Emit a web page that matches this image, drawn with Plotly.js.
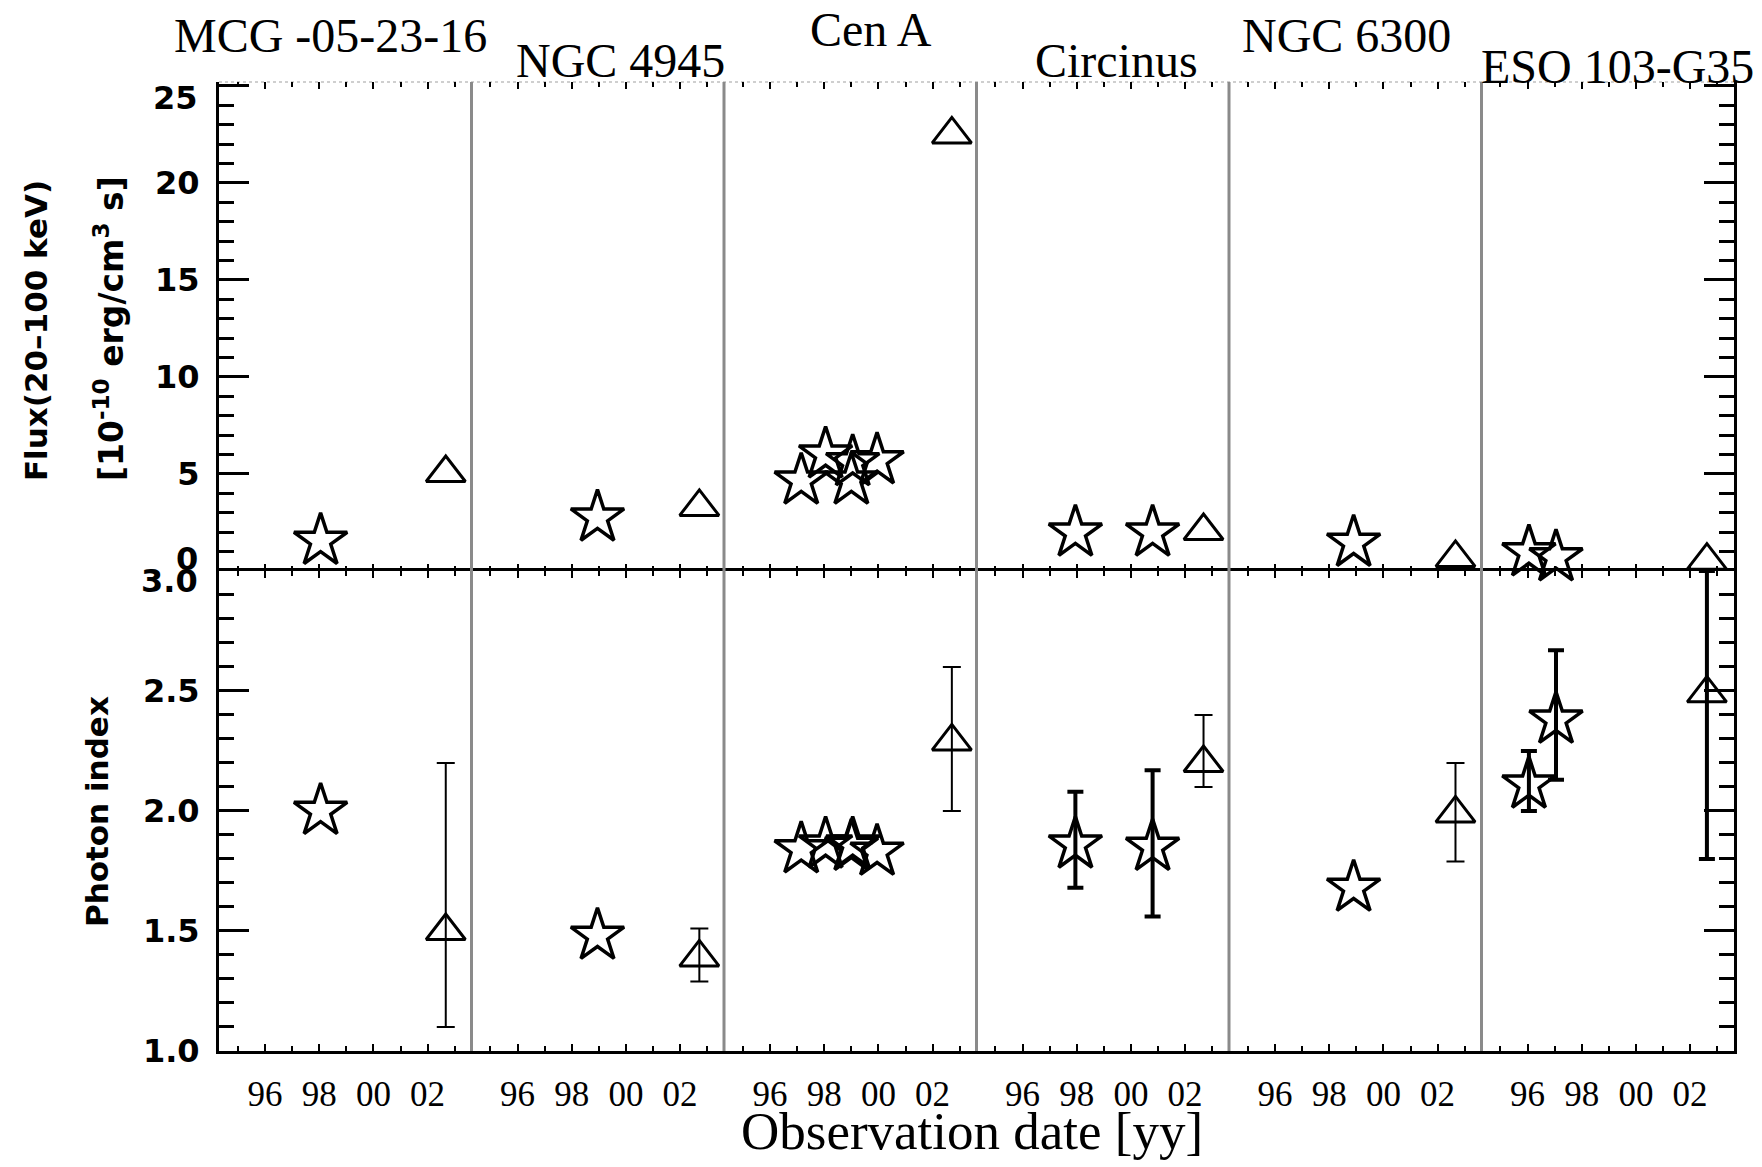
<!DOCTYPE html>
<html>
<head>
<meta charset="utf-8">
<script src="https://cdn.plot.ly/plotly-3.0.1.min.js"></script>
<style>
html,body{margin:0;padding:0;background:#fff;}
#chart{width:1762px;height:1167px;}
</style>
</head>
<body>
<div id="chart"></div>
<script>
// ---------------- DATA ----------------
const sources = ['MCG -05-23-16', 'NGC 4945', 'Cen A', 'Circinus', 'NGC 6300', 'ESO 103-G35'];

// earlier observations (star symbols)
const starYears = [
  [1998.05],
  [1998.95],
  [1997.15, 1998.05, 1999.0, 1999.05, 1999.95],
  [1997.95, 2000.8],
  [1998.9],
  [1996.05, 1997.05]
];
const starFlux = [
  [1.55],
  [2.75],
  [4.65, 6.0, 4.65, 5.6, 5.7],
  [1.97, 1.97],
  [1.45],
  [0.95, 0.7]
];
const starIndex = [
  [2.0],
  [1.48],
  [1.84, 1.86, 1.85, 1.86, 1.83],
  [1.86, 1.85],
  [1.68],
  [2.11, 2.38]
];
const starErrPlus = [
  [null],
  [null],
  [null, null, null, null, null],
  [0.22, 0.32],
  [null],
  [0.14, 0.29]
];
const starErrMinus = [
  [null],
  [null],
  [null, null, null, null, null],
  [0.18, 0.29],
  [null],
  [0.11, 0.25]
];

// INTEGRAL observations (triangles), one per source
const triYears    = [2002.67, 2002.71, 2002.71, 2002.68, 2002.66, 2002.62];
const triFlux     = [5.05, 3.3, 22.5, 2.06, 0.67, 0.53];
const triIndex    = [1.5, 1.39, 2.29, 2.2, 1.99, 2.49];
const triErrPlus  = [0.7, 0.12, 0.31, 0.2, 0.21, 0.51];
const triErrMinus = [0.4, 0.1, 0.29, 0.1, 0.2, 0.69];

const xTickYears  = [1996, 1998, 2000, 2002];
const xTickLabels = ['96', '98', '00', '02'];
const fluxTicks   = [0, 5, 10, 15, 20, 25];
const fluxLabels  = ['0', '5', '10', '15', '20', '25'];
const indexTicks  = [1.0, 1.5, 2.0, 2.5, 3.0];
const indexLabels = ['1.0', '1.5', '2.0', '2.5', '3.0'];

// ---------------- STYLE ----------------
const X_RANGE = [1994.3, 2003.62];
const FLUX_RANGE = [0, 25.2];
const INDEX_RANGE = [1, 3];
const SPLIT = 0.4954;
const thickTriPanels = [5];
const N = sources.length;

const starMarker = {symbol: 'star-open', size: 40, color: '#000', line: {color: '#000', width: 3.5}};
const triMarker  = {symbol: 'triangle-up-open', size: 34, color: '#000', line: {color: '#000', width: 3}};

const traces = [];
for (let k = 0; k < N; k++) {
  const bx = k === 0 ? 'x' : 'x' + (k + 1);
  const tx = 'x' + (k + 7);
  const hasErr = starErrPlus[k].some(v => v !== null);
  traces.push({type: 'scatter', mode: 'markers', x: starYears[k], y: starFlux[k],
    xaxis: tx, yaxis: 'y2', marker: starMarker, cliponaxis: false, hoverinfo: 'x+y', name: sources[k]});
  traces.push({type: 'scatter', mode: 'markers', x: [triYears[k]], y: [triFlux[k]],
    xaxis: tx, yaxis: 'y2', marker: triMarker, cliponaxis: false, hoverinfo: 'x+y', name: sources[k]});
  traces.push({type: 'scatter', mode: 'markers', x: starYears[k], y: starIndex[k],
    xaxis: bx, yaxis: 'y', marker: starMarker, cliponaxis: false, hoverinfo: 'x+y', name: sources[k],
    error_y: {type: 'data', symmetric: false, array: starErrPlus[k], arrayminus: starErrMinus[k],
      visible: hasErr, color: '#000', thickness: 4, width: 8}});
  const thick = thickTriPanels.includes(k);
  traces.push({type: 'scatter', mode: 'markers', x: [triYears[k]], y: [triIndex[k]],
    xaxis: bx, yaxis: 'y', marker: triMarker, cliponaxis: false, hoverinfo: 'x+y', name: sources[k],
    error_y: {type: 'data', symmetric: false, array: [triErrPlus[k]], arrayminus: [triErrMinus[k]],
      color: '#000', thickness: thick ? 4 : 2, width: thick ? 8 : 9}});
}
// dummy traces for right-side axes
traces.push({type: 'scatter', mode: 'markers', x: [], y: [], xaxis: 'x6', yaxis: 'y3', hoverinfo: 'skip'});
traces.push({type: 'scatter', mode: 'markers', x: [], y: [], xaxis: 'x12', yaxis: 'y4', hoverinfo: 'skip'});

const layout = {
  width: 1762, height: 1167,
  margin: {l: 219, r: 28, t: 82, b: 116, pad: 0},
  paper_bgcolor: '#fff', plot_bgcolor: 'rgba(0,0,0,0)',
  showlegend: false,
  font: {family: 'DejaVu Sans', color: '#000'},
  shapes: [], annotations: []
};

const xMinor = {tickmode: 'linear', tick0: 1994, dtick: 1, ticks: 'inside', ticklen: 5, tickwidth: 2, tickcolor: '#000'};
for (let k = 0; k < N; k++) {
  const dom = [k / N, (k + 1) / N];
  const bName = k === 0 ? 'xaxis' : 'xaxis' + (k + 1);
  const bId = k === 0 ? 'x' : 'x' + (k + 1);
  layout[bName] = {
    domain: dom, anchor: 'y', range: X_RANGE.slice(),
    tickmode: 'array', tickvals: xTickYears, ticktext: xTickLabels,
    ticks: 'inside', ticklen: 7, tickwidth: 2, tickcolor: '#000',
    minor: xMinor,
    showline: true, linewidth: 3, linecolor: '#000', mirror: 'ticks',
    showgrid: false, zeroline: false, fixedrange: true,
    tickfont: {family: 'Liberation Serif', size: 35, color: '#000'},
    ticklabelstandoff: 10
  };
  layout['xaxis' + (k + 7)] = {
    domain: dom, anchor: 'y2', matches: bId, range: X_RANGE.slice(),
    tickmode: 'array', tickvals: xTickYears, ticktext: xTickLabels,
    ticks: 'inside', ticklen: 7, tickwidth: 2, tickcolor: '#000',
    minor: xMinor,
    showticklabels: false, showline: false, mirror: 'ticks',
    showgrid: false, zeroline: false, fixedrange: true
  };
}

const yTickFont = {family: 'DejaVu Sans', size: 32, color: '#000', weight: 'bold'};
// the end labels (0 / 3.0 at the shared border, 25 at the top) are drawn as annotations
// slightly displaced from their ticks, as in the original figure
const endLabel = i => (i === 0 || i === fluxTicks.length - 1);
const yIndexCommon = {
  range: INDEX_RANGE, tickmode: 'array', tickvals: indexTicks,
  ticks: 'inside', ticklen: 30, tickwidth: 3, tickcolor: '#000',
  minor: {tickmode: 'linear', tick0: 1, dtick: 0.1, ticks: 'inside', ticklen: 15, tickwidth: 3, tickcolor: '#000'},
  showline: true, linewidth: 3, linecolor: '#000',
  showgrid: false, zeroline: false, fixedrange: true
};
const yFluxCommon = {
  range: FLUX_RANGE, tickmode: 'array', tickvals: fluxTicks,
  ticks: 'inside', ticklen: 30, tickwidth: 3, tickcolor: '#000',
  minor: {tickmode: 'linear', tick0: 0, dtick: 1, ticks: 'inside', ticklen: 15, tickwidth: 3, tickcolor: '#000'},
  showline: true, linewidth: 3, linecolor: '#000',
  showgrid: false, zeroline: false, fixedrange: true
};
layout.yaxis  = Object.assign({domain: [0, SPLIT], anchor: 'x', tickfont: yTickFont, ticklabelstandoff: 10,
  ticktext: indexLabels.map((t, i) => i === indexLabels.length - 1 ? '' : t)}, yIndexCommon);
layout.yaxis2 = Object.assign({domain: [SPLIT, 1], anchor: 'x7', tickfont: yTickFont, ticklabelstandoff: 10,
  ticktext: fluxLabels.map((t, i) => endLabel(i) ? '' : t)}, yFluxCommon);
layout.yaxis3 = Object.assign({overlaying: 'y', side: 'right', anchor: 'x6', showticklabels: false}, yIndexCommon);
layout.yaxis4 = Object.assign({overlaying: 'y2', side: 'right', anchor: 'x12', showticklabels: false}, yFluxCommon);

// displaced end labels
const endLab = (text, yref, y) => ({text: text, xref: 'paper', yref: yref, x: 0, y: y, xanchor: 'right',
  yanchor: 'middle', xshift: -19, showarrow: false, font: yTickFont});
layout.annotations.push(endLab(fluxLabels[0], 'y2', fluxTicks[0] + 0.64));
layout.annotations.push(endLab(fluxLabels[fluxLabels.length - 1], 'y2', fluxTicks[fluxTicks.length - 1] - 0.6));
layout.annotations.push(endLab(indexLabels[indexLabels.length - 1], 'y', indexTicks[indexTicks.length - 1] - 0.042));

// panel separators
for (let k = 1; k < N; k++) {
  layout.shapes.push({type: 'line', xref: 'paper', yref: 'paper', x0: k / N, x1: k / N, y0: 0, y1: 1,
    line: {color: '#8a8a8a', width: 3}, layer: 'above'});
}
// faint dotted top border
layout.shapes.push({type: 'line', xref: 'paper', yref: 'paper', x0: 0, x1: 1, y0: 1, y1: 1,
  line: {color: '#cfcfcf', width: 2, dash: 'dot'}, layer: 'below'});

// source titles
const titlePos = [[0.0739, 1.0485], [0.2653, 1.0227], [0.4304, 1.0537], [0.5927, 1.0227], [0.7439, 1.0485], [0.9234, 1.0155]];
for (let k = 0; k < N; k++) {
  layout.annotations.push({text: sources[k], xref: 'paper', yref: 'paper', x: titlePos[k][0], y: titlePos[k][1],
    xanchor: 'center', yanchor: 'middle', showarrow: false,
    font: {family: 'Liberation Serif', size: 48, color: '#000'}});
}
const labFont = {family: 'DejaVu Sans', size: 31, color: '#000', weight: 'bold'};
layout.annotations.push({text: 'Flux(20–100 keV)', xref: 'paper', yref: 'paper', x: -0.1208, y: 0.744,
  textangle: -90, showarrow: false, xanchor: 'center', yanchor: 'middle', font: labFont});
layout.annotations.push({text: '[10<sup>-10</sup> erg/cm<sup>3</sup> s]', xref: 'paper', yref: 'paper', x: -0.0726, y: 0.745,
  textangle: -90, showarrow: false, xanchor: 'center', yanchor: 'middle',
  font: Object.assign({}, labFont, {size: 33})});
layout.annotations.push({text: 'Photon index', xref: 'paper', yref: 'paper', x: -0.0805, y: 0.2466,
  textangle: -90, showarrow: false, xanchor: 'center', yanchor: 'middle', font: labFont});
layout.annotations.push({text: 'Observation date [yy]', xref: 'paper', yref: 'paper', x: 0.497, y: -0.083,
  showarrow: false, xanchor: 'center', yanchor: 'middle',
  font: {family: 'Liberation Serif', size: 53, color: '#000'}});

Plotly.newPlot('chart', traces, layout, {displayModeBar: false, staticPlot: true});
</script>
</body>
</html>
